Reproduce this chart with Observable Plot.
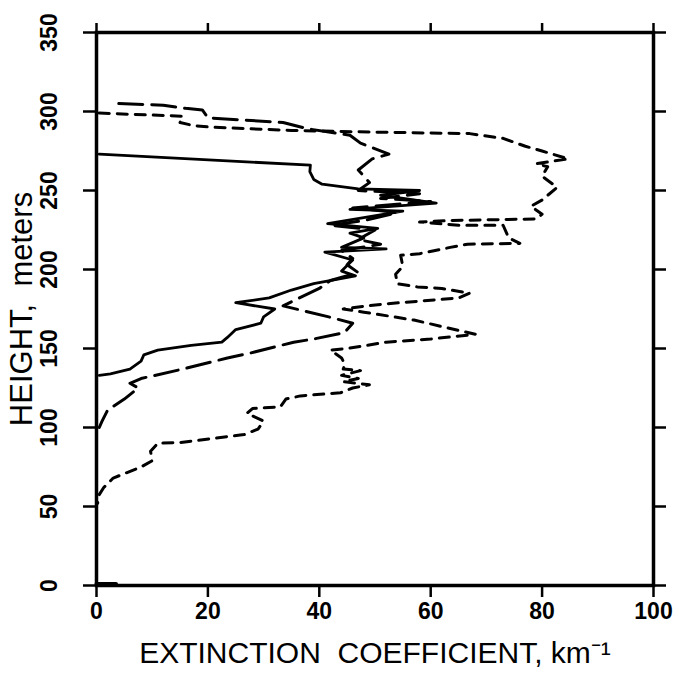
<!DOCTYPE html>
<html>
<head>
<meta charset="utf-8">
<script src="https://cdn.jsdelivr.net/npm/d3@7"></script>
<script src="https://cdn.jsdelivr.net/npm/@observablehq/plot@0.6"></script>
<style>
  html, body { margin: 0; padding: 0; background: #fff; }
  #chart svg { display: block; }
</style>
</head>
<body>
<div id="chart"></div>
<script>
// Tick labels
const xTicks = [0, 20, 40, 60, 80, 100];
const yTicks = [0, 50, 100, 150, 200, 250, 300, 350];
const xLabel = "EXTINCTION\u00a0\u00a0COEFFICIENT,\u00a0km\u207B\u00B9";
const yLabel = "HEIGHT,\u00a0\u00a0meters";

// Solid profile (height m, extinction km^-1), top to bottom
const solidH = [273, 266, 262, 257, 254, 251, 250, 247, 242, 238, 237, 229, 226, 223, 220, 214, 213, 211, 206, 199, 196, 191, 187, 182, 179, 175, 170, 166, 162, 157, 154, 152, 149, 146, 142, 137, 134, 133];
const solidV = [0.5, 38.4, 38.3, 39, 40.5, 47, 58, 51, 61, 45.5, 55, 41.5, 50.5, 45.5, 48, 44, 52, 41, 46, 44, 46.5, 39, 35, 31, 25, 32, 30, 29.5, 25, 23.5, 22.5, 17, 11, 8.5, 8, 6, 2.5, 0.5];

// Long-dash profile
const longH = [305, 304, 302, 301, 296, 293, 289, 285, 280, 273, 270, 263, 255, 250, 248, 245, 243, 239, 236, 231, 228, 225, 219, 216, 212, 207, 203, 198, 193, 188, 183, 177, 170, 166, 160, 156, 154, 147, 144, 137, 131, 128, 125, 118, 111, 104, 100];
const longV = [4, 12, 16, 19, 20, 33.5, 38, 45.5, 47.4, 52.5, 49.5, 47, 49, 47, 58, 51, 60, 46, 54, 48, 42, 50, 47, 51, 44, 46, 45, 47, 42, 40, 37, 33.5, 41.7, 46, 44.5, 39, 35.4, 27.5, 23.5, 15.5, 8, 6, 7.5, 5, 2, 1, 0.5];

// Short-dash profile
const shortH = [299, 297, 293, 291, 290, 288, 287, 286, 283, 278, 275, 270, 267, 265, 259, 252, 244, 240, 235, 232, 231, 230, 228, 228, 220, 216.5, 216, 214, 210, 209, 202, 197, 191, 189, 188, 185, 182, 178.5, 177, 175, 173, 168, 159, 156, 154, 150, 149, 144, 140, 137, 136, 133, 131, 129, 127, 125, 122, 120, 118, 113, 112, 109, 104, 99, 95.5, 94, 90.5, 90, 85, 79, 75, 68, 62, 57, 52];
const shortV = [0.5, 15.5, 15, 17.5, 21, 35, 49, 67, 73, 77, 80, 84.7, 79, 81, 80, 82.7, 80, 78, 80, 79, 63.5, 58, 65, 73, 74, 76, 66.6, 63.5, 58, 54.6, 55, 53.7, 54, 57.6, 62, 67, 65, 52.8, 48.6, 44.3, 48, 57, 68, 60, 52, 45, 42, 44, 44.6, 44.3, 47.4, 44, 47, 44.3, 49, 46, 43.8, 36.6, 34, 33, 28, 27, 30, 29, 26.5, 23, 15, 11, 9.7, 10, 8, 3, 1.3, 0.4, 0.2];

// Short trace at ground level
const baseH = [1, 1];
const baseV = [0, 3.5];

const toRows = (H, V) => H.map((h, i) => ({h, v: V[i]}));
const solid = toRows(solidH, solidV);
const longDash = toRows(longH, longV);
const shortDash = toRows(shortH, shortV);
const base = toRows(baseH, baseV);

const font = "'Liberation Sans', Arial, sans-serif";

const chart = Plot.plot({
  width: 679,
  height: 677,
  marginLeft: 96,
  marginRight: 26,
  marginTop: 32,
  marginBottom: 92,
  style: {fontFamily: font, color: "black", background: "white"},
  x: {domain: [0, 100]},
  y: {domain: [0, 350]},
  marks: [
    Plot.line(solid, {x: "v", y: "h", stroke: "black", strokeWidth: 2.8}),
    Plot.line(longDash, {x: "v", y: "h", stroke: "black", strokeWidth: 3, strokeDasharray: "24,9"}),
    Plot.line(shortDash, {x: "v", y: "h", stroke: "black", strokeWidth: 3, strokeDasharray: "10,8"}),
    Plot.line(base, {x: "v", y: "h", stroke: "black", strokeWidth: 4}),
    Plot.frame({stroke: "black", strokeWidth: 3.5}),
    Plot.axisX({anchor: "bottom", ticks: xTicks, tickSize: 12, tickPadding: 5, strokeWidth: 2.5, fontSize: 23, fontWeight: "bold", label: null}),
    Plot.axisX({anchor: "top", ticks: xTicks, tickSize: 10, strokeWidth: 2.5, tickFormat: () => "", label: null}),
    Plot.axisY({anchor: "left", ticks: yTicks, tickSize: 13, strokeWidth: 2.5, tickFormat: () => "", label: null}),
    Plot.axisY({anchor: "right", ticks: yTicks, tickSize: 12, strokeWidth: 2.5, tickFormat: () => "", label: null}),
    Plot.text(yTicks, {y: d => d, text: d => String(d), frameAnchor: "left", dx: -40, rotate: -90, textAnchor: "middle", lineAnchor: "bottom", fontSize: 23, fontWeight: "bold"}),
    Plot.text([xLabel], {text: d => d, frameAnchor: "bottom", dy: 68, textAnchor: "middle", lineAnchor: "middle", fontSize: 30}),
    Plot.text([yLabel], {text: d => d, frameAnchor: "left", dx: -74, rotate: -90, textAnchor: "middle", lineAnchor: "middle", fontSize: 31})
  ]
});
document.getElementById("chart").appendChild(chart);
</script>
</body>
</html>
